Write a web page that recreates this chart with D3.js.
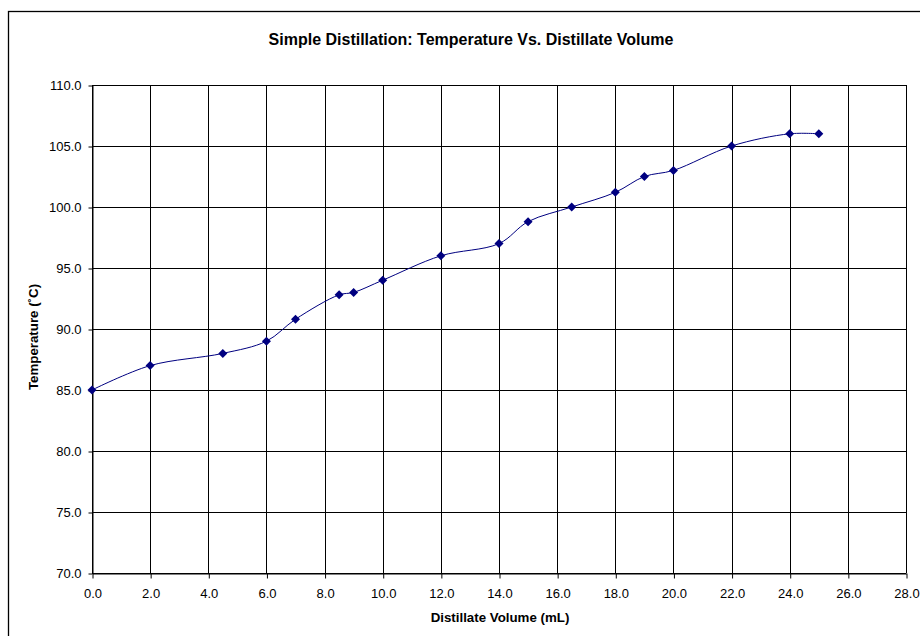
<!DOCTYPE html>
<html><head><meta charset="utf-8">
<script src="https://cdn.jsdelivr.net/npm/d3@7"></script>
<style>body{margin:0;background:#fff}svg{display:block}text{font-family:"Liberation Sans",Arial,sans-serif}</style>
</head><body><svg id="c" width="920" height="636"></svg>
<script>
const volume = [0, 2, 4.5, 6, 7, 8.5, 9, 10, 12, 14, 15, 16.5, 18, 19, 20, 22, 24, 25];
const temperature = [85, 87, 88, 89, 90.8, 92.8, 93, 94, 96, 97, 98.8, 100, 101.2, 102.5, 103, 105, 106, 106];
const xTicks = d3.range(0, 28.01, 2);
const yTicks = d3.range(70, 110.01, 5);
const title = "Simple Distillation: Temperature Vs. Distillate Volume";
const xTitle = "Distillate Volume (mL)";
const yTitle = "Temperature (˚C)";

const svg = d3.select("#c");
const L = 92, R = 906, T = 85, B = 573;
const x = d3.scaleLinear().domain([0, 28]).range([L, R]);
const y = d3.scaleLinear().domain([70, 110]).range([B, T]);

svg.append("rect").attr("x", 8.5).attr("y", 11.5).attr("width", 920).attr("height", 640)
  .attr("fill", "#fff").attr("stroke", "#000").attr("stroke-width", 1.3);

const g = svg.append("g");
g.selectAll(".vg").data(xTicks).join("line")
  .attr("x1", d => Math.round(x(d)) + 0.5).attr("x2", d => Math.round(x(d)) + 0.5)
  .attr("y1", T).attr("y2", B).attr("stroke", "#000");
g.selectAll(".hg").data(yTicks).join("line")
  .attr("y1", d => Math.round(y(d)) + 0.5).attr("y2", d => Math.round(y(d)) + 0.5)
  .attr("x1", L).attr("x2", R).attr("stroke", "#000");

const xa = svg.append("g").attr("transform", `translate(0.5,${B + 0.5})`)
  .call(d3.axisBottom(x).tickValues(xTicks).tickFormat(d3.format(".1f")).tickSizeInner(5).tickSizeOuter(0).tickPadding(10));
const ya = svg.append("g").attr("transform", `translate(${L + 0.5},0.5)`)
  .call(d3.axisLeft(y).tickValues(yTicks).tickFormat(d3.format(".1f")).tickSizeInner(4).tickSizeOuter(0).tickPadding(7));
[xa, ya].forEach(a => {
  a.selectAll("text").attr("font-size", 13).attr("fill", "#000").style("font-family", "Liberation Sans, Arial, sans-serif");
  a.selectAll("line").attr("stroke", "#000");
  a.select(".domain").attr("stroke", "#000");
});

const pts = volume.map((v, i) => [v, temperature[i]]);
svg.append("path").datum(pts)
  .attr("d", d3.line().x(d => x(d[0])).y(d => y(d[1])).curve(d3.curveCatmullRom.alpha(0.5)))
  .attr("fill", "none").attr("stroke", "#000080").attr("stroke-width", 1);
svg.selectAll(".m").data(pts).join("path")
  .attr("transform", d => `translate(${x(d[0])},${y(d[1])})`)
  .attr("d", "M0,-4.5L4.5,0L0,4.5L-4.5,0Z").attr("fill", "#000080");

svg.append("text").attr("x", 471).attr("y", 45).attr("text-anchor", "middle")
  .attr("font-size", 16).attr("font-weight", "bold").text(title);
svg.append("text").attr("x", 500).attr("y", 622).attr("text-anchor", "middle")
  .attr("font-size", 13.3).attr("font-weight", "bold").text(xTitle);
svg.append("text").attr("transform", `translate(38,337) rotate(-90)`).attr("text-anchor", "middle")
  .attr("font-size", 13.3).attr("font-weight", "bold").text(yTitle);
</script></body></html>
